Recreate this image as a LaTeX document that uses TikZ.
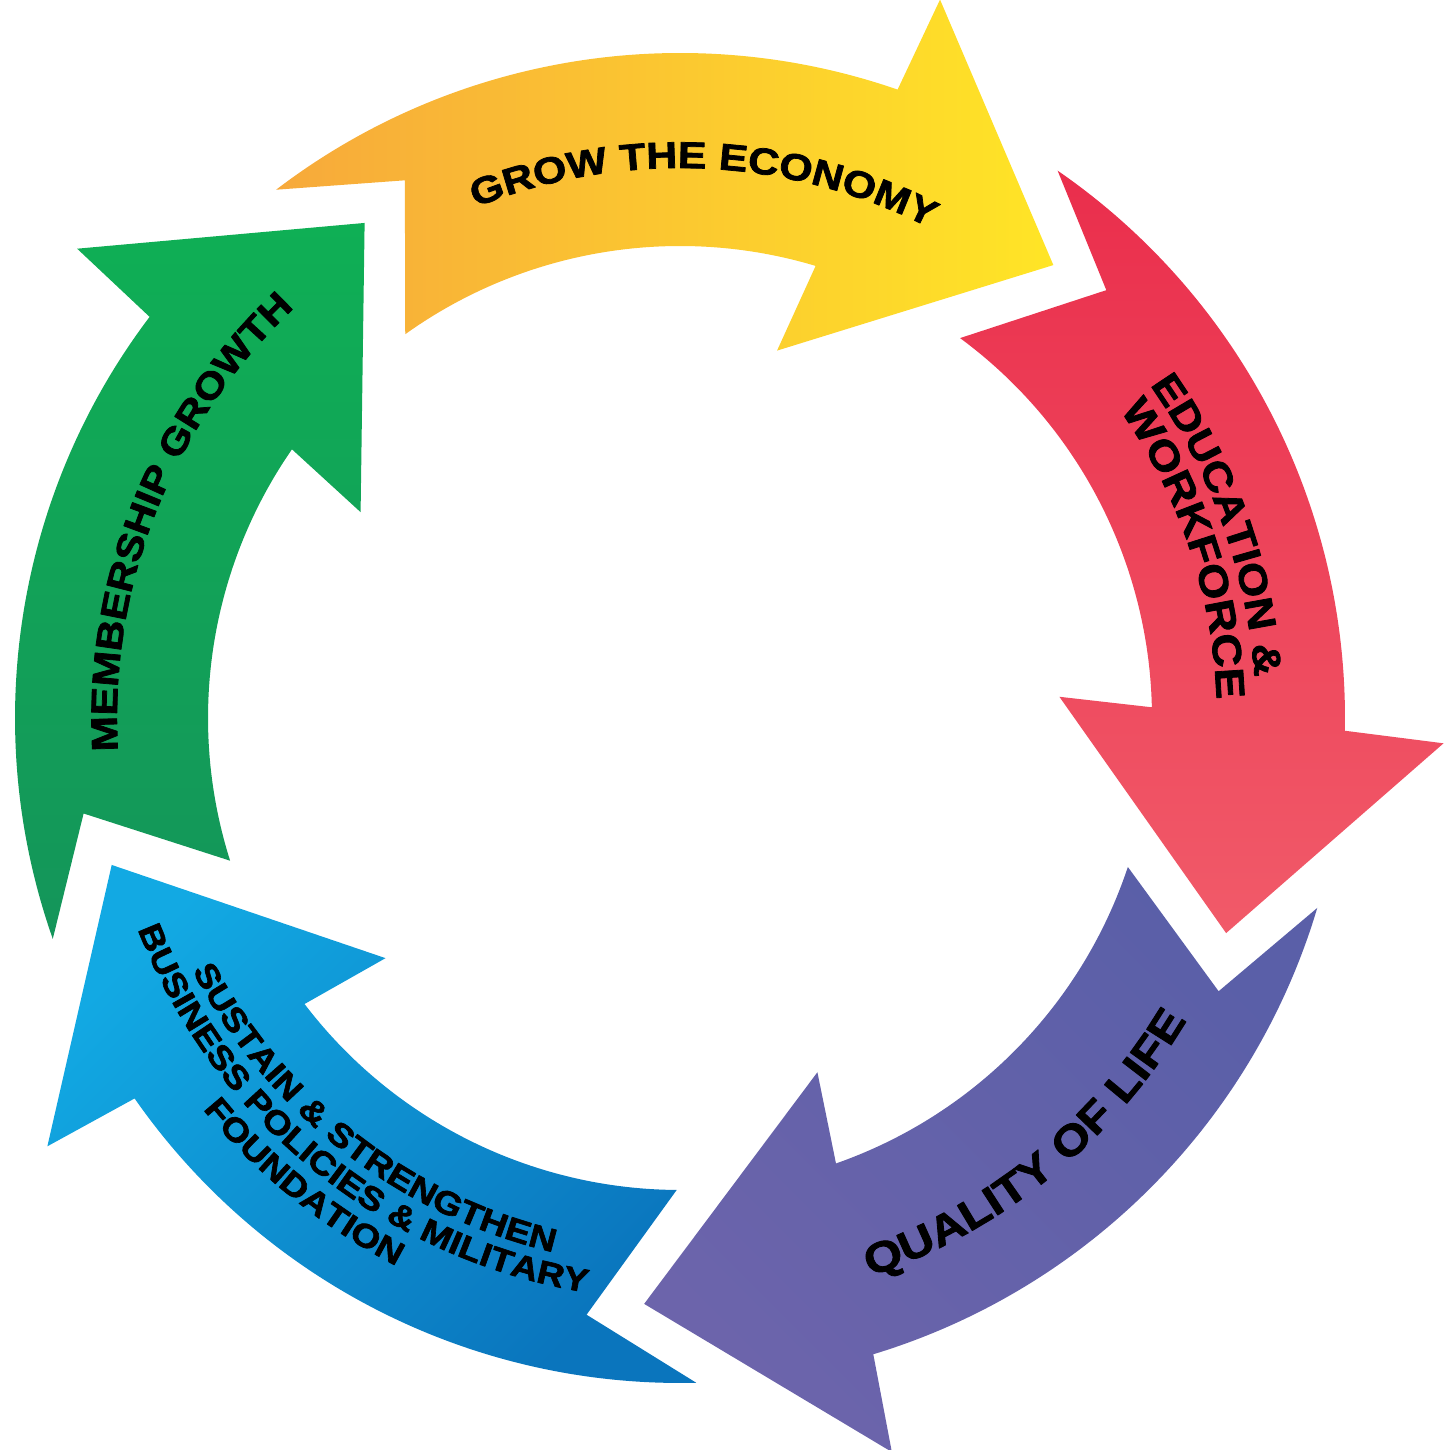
\documentclass[tikz,border=0pt]{standalone}
\usepackage{fontspec}
\usetikzlibrary{decorations.text}
\newfontfamily\arrowfont{Liberation Sans Bold}[FakeStretch=1.15,FakeBold=2]
\newcommand\lblsize[1]{\arrowfont\fontsize{#1pt}{#1pt}\selectfont}
\definecolor{growA}{HTML}{F7A93B}
\definecolor{growB}{HTML}{FFE526}
\definecolor{eduA}{HTML}{EA2E4C}
\definecolor{eduB}{HTML}{F15A69}
\definecolor{lifeA}{HTML}{5A5FA8}
\definecolor{lifeB}{HTML}{6C64AB}
\definecolor{bizA}{HTML}{12A9E3}
\definecolor{bizB}{HTML}{0A75BD}
\definecolor{memA}{HTML}{0FAF55}
\definecolor{memB}{HTML}{14955A}
\tikzset{lbl/.style={decorate,decoration={text along path,text align=center,text color=black}}}

\begin{document}
\begin{tikzpicture}[line cap=round,line join=round,x=1.0cm,y=1.0cm]
	\useasboundingbox (-6.80,-7.32) rectangle (7.75,7.18);
	% five arrows, tip angle / colours / shading angle
	\foreach \t/\ca/\cb/\sa in {50.5/growB/growA/-90,-21.5/eduA/eduB/0,-93.5/lifeA/lifeB/-45,-165.5/bizA/bizB/45,122.5/memA/memB/0}{
		\shade[top color=\ca,bottom color=\cb,shading angle=\sa] (\t+76.9:6.65) arc[start angle=\t+76.9,end angle=\t+20.4,radius=6.65]
			-- (\t+19.6:7.64) -- (\t:5.87) -- (\t+24.7:3.80) -- (\t+22.8:4.72)
			arc[start angle=\t+22.8,end angle=\t+75.1,radius=4.72] -- (\t+66.6:6.04) -- cycle;
	}
	% labels
	\path[lbl,decoration={text={|\lblsize{10.6}|GROW THE ECONOMY}}] (122.4:5.50) arc[start angle=122.4,end angle=52.4,radius=5.50];
	\path[lbl,decoration={text={|\lblsize{10.5}|MEMBERSHIP GROWTH}}] (193.3:5.63) arc[start angle=193.3,end angle=123.3,radius=5.63];
	\path[lbl,decoration={text={|\lblsize{11.2}|EDUCATION {\&}}}] (54.7:5.76) arc[start angle=54.7,end angle=-15.3,radius=5.76];
	\path[lbl,decoration={text={|\lblsize{11.5}|WORKFORCE}}] (53.5:5.37) arc[start angle=53.5,end angle=-16.5,radius=5.37];
	\path[lbl,decoration={text={|\lblsize{12.1}|QUALITY OF LIFE}}] (-86:5.90) arc[start angle=-86,end angle=-16,radius=5.90];
	\path[lbl,decoration={text={|\lblsize{9.3}|SUSTAIN {\&} STRENGTHEN}}] (197:5.49) arc[start angle=197,end angle=267,radius=5.49];
	\path[lbl,decoration={text={|\lblsize{9.3}|BUSINESS POLICIES {\&} MILITARY}}] (196:5.82) arc[start angle=196,end angle=266,radius=5.82];
	\path[lbl,decoration={text={|\lblsize{9.3}|FOUNDATION}}] (196:6.17) arc[start angle=196,end angle=266,radius=6.17];
\end{tikzpicture}
\end{document}
